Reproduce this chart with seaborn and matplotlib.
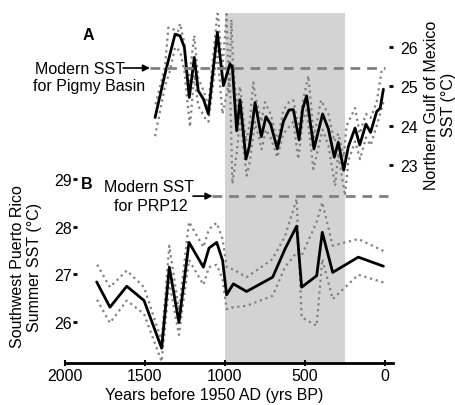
import matplotlib
matplotlib.use('Agg')
import matplotlib.pyplot as plt
import seaborn as sns

# ------------------------------------------------------------
# DATA
# ------------------------------------------------------------

# A: Northern Gulf of Mexico (Pigmy Basin) SST
pb_years = [1437, 1375, 1344, 1312, 1281, 1254, 1223, 1192, 1167, 1135,
            1104, 1048, 1010, 969, 954, 927, 906, 869, 848, 812,
            773, 744, 715, 673, 635, 600, 573, 537, 515, 490,
            444, 390, 354, 317, 292, 258, 229, 187, 158, 119,
            90, 52, 30, 10]
pb_sst = [24.21, 25.32, 25.82, 26.33, 26.29, 26.00, 24.72, 25.74, 24.89, 24.68,
          24.30, 26.38, 25.02, 25.57, 25.50, 23.87, 24.66, 23.15, 23.47, 24.59,
          23.72, 24.23, 24.04, 23.41, 24.11, 24.40, 24.41, 23.64, 24.42, 24.76,
          23.41, 24.30, 23.92, 23.20, 23.58, 22.87, 23.47, 23.94, 23.51, 24.04,
          23.83, 24.36, 24.45, 24.93]

pb_hi_years = [1437, 1375, 1354, 1320, 1300, 1281, 1254, 1230, 1192, 1167,
               1135, 1104, 1046, 1015, 990, 975, 960, 950, 927, 906,
               869, 848, 823, 812, 773, 750, 715, 673, 635, 600,
               573, 537, 515, 479, 444, 400, 354, 317, 292, 258,
               240, 187, 158, 119, 90, 52, 21]
pb_hi = [24.50, 25.50, 26.50, 26.45, 26.30, 26.60, 26.10, 25.00, 26.30, 25.20,
         24.90, 24.50, 26.93, 25.50, 26.84, 24.80, 26.70, 25.60, 24.50, 25.00,
         23.60, 24.00, 25.10, 24.80, 24.10, 24.60, 24.30, 23.60, 24.40, 24.60,
         24.65, 23.90, 24.60, 25.27, 23.70, 24.65, 24.30, 23.60, 23.80, 23.20,
         24.00, 24.45, 23.80, 24.30, 24.20, 24.60, 25.40]

pb_lo_years = [1441, 1375, 1344, 1312, 1281, 1254, 1219, 1192, 1167, 1115,
               1104, 1048, 1016, 969, 954, 927, 906, 865, 848, 812,
               771, 744, 715, 673, 635, 573, 542, 515, 490, 448,
               390, 354, 312, 292, 250, 229, 187, 156, 119, 90,
               52, 10]
pb_lo = [23.66, 25.00, 25.40, 26.00, 25.90, 25.40, 23.97, 25.30, 24.50, 24.13,
         24.10, 25.90, 24.30, 25.20, 22.52, 23.30, 24.20, 22.73, 23.00, 24.10,
         23.40, 23.90, 23.70, 23.20, 23.80, 24.10, 23.15, 24.10, 24.40, 22.90,
         23.90, 23.50, 22.47, 23.30, 22.22, 23.10, 23.60, 23.15, 23.70, 23.50,
         24.00, 24.60]

# B: Southwest Puerto Rico (PRP12) summer SST
pr_years = [1802, 1719, 1614, 1506, 1396, 1348, 1288, 1225, 1135, 1100,
            1052, 1015, 990, 948, 865, 702, 625, 552, 521, 427,
            392, 327, 167, 10]
pr_sst = [26.84, 26.31, 26.75, 26.45, 25.45, 27.15, 25.99, 27.67, 27.15, 27.55,
          27.67, 27.29, 26.57, 26.80, 26.64, 26.94, 27.53, 28.01, 26.73, 26.97,
          27.88, 27.04, 27.36, 27.17]
pr_hi = [27.22, 26.73, 27.08, 26.73, 25.60, 27.60, 26.24, 28.10, 27.57, 27.95,
         28.08, 27.74, 27.15, 27.10, 26.94, 27.32, 27.80, 28.58, 26.10, 25.92,
         27.32, 26.48, 26.99, 26.83]
pr_lo = [26.48, 25.98, 26.45, 26.17, 25.17, 26.83, 25.73, 27.30, 26.78, 27.15,
         27.20, 26.90, 26.27, 26.31, 26.34, 26.55, 27.15, 27.46, 27.39, 28.10,
         28.51, 27.60, 27.74, 27.49]

modern_pb = 25.47
modern_pr = 28.64
shade_years = [1000, 250]

left_ticks = [26, 27, 28, 29]
right_ticks = [23, 24, 25, 26]
x_ticks = [2000, 1500, 1000, 500, 0]

# ------------------------------------------------------------
# STYLE
# ------------------------------------------------------------
sns.set_theme(style='white')
plt.rcParams['font.family'] = ['Liberation Sans', 'DejaVu Sans']
plt.rcParams['font.size'] = 11.5
plt.rcParams['text.color'] = 'black'
plt.rcParams['axes.labelcolor'] = 'black'
plt.rcParams['xtick.color'] = 'black'
plt.rcParams['ytick.color'] = 'black'

W, H = 456, 406
fig = plt.figure(figsize=(W / 100, H / 100), dpi=100)
ax = fig.add_axes([65 / W, 1 - 364 / H, (393 - 65) / W, (364 - 14) / H])
ax2 = ax.twinx()

GRAY = '#808080'
SHADE = '#d3d3d3'

ax.set_xlim(2000, -50)
ax.set_ylim(25.14, 32.48)
ax2.set_ylim(17.96, 26.87)

# shaded interval
ax.axvspan(shade_years[0], shade_years[1], color=SHADE, lw=0, zorder=0)

# panel B
sns.lineplot(x=pr_years, y=pr_hi, ax=ax, color=GRAY, lw=1.6, ls=':', errorbar=None)
sns.lineplot(x=pr_years, y=pr_lo, ax=ax, color=GRAY, lw=1.6, ls=':', errorbar=None)
sns.lineplot(x=pr_years, y=pr_sst, ax=ax, color='black', lw=2.0, errorbar=None)
ax.plot([1081, -19], [modern_pr, modern_pr], color=GRAY, lw=2, ls=(0, (3.5, 2.5)))
ax.annotate('', xy=(1078, modern_pr), xytext=(1200, modern_pr),
            arrowprops=dict(arrowstyle='-|>', color='black', lw=1.2,
                            mutation_scale=10, shrinkA=0, shrinkB=0))

# panel A
sns.lineplot(x=pb_hi_years, y=pb_hi, ax=ax2, color=GRAY, lw=1.6, ls=':', errorbar=None)
sns.lineplot(x=pb_lo_years, y=pb_lo, ax=ax2, color=GRAY, lw=1.6, ls=':', errorbar=None)
sns.lineplot(x=pb_years, y=pb_sst, ax=ax2, color='black', lw=2.0, errorbar=None)
ax2.plot([1469, 0], [modern_pb, modern_pb], color=GRAY, lw=2, ls=(0, (3.5, 2.5)))
ax2.annotate('', xy=(1469, modern_pb), xytext=(1637, modern_pb),
             arrowprops=dict(arrowstyle='-|>', color='black', lw=1.2,
                             mutation_scale=10, shrinkA=0, shrinkB=0))

# axes cosmetics
for s in ['top', 'right', 'left']:
    ax.spines[s].set_visible(False)
for s in ax2.spines.values():
    s.set_visible(False)
ax.spines['bottom'].set_color('black')
ax.spines['bottom'].set_linewidth(2)

ax.set_xticks(x_ticks)
ax.set_xticklabels([str(v) for v in x_ticks])
ax.tick_params(axis='x', direction='inout', length=5, width=1.5,
               colors='black', pad=1, labelsize=11.5, bottom=True)

ax.spines['left'].set_position(('outward', -9))
ax.set_yticks(left_ticks)
ax.set_yticklabels([str(v) for v in left_ticks])
ax.tick_params(axis='y', direction='out', length=3, width=2,
               colors='black', pad=1, labelsize=11.5, left=True)

ax2.set_yticks(right_ticks)
ax2.set_yticklabels([str(v) for v in right_ticks])
ax2.tick_params(axis='y', direction='in', length=3, width=2,
                colors='black', pad=5, labelsize=11.5, right=True)

ax.set_xlabel('')
ax.set_ylabel('')
ax2.set_ylabel('')

# texts
def ft(x, y, s, **kw):
    fig.text(x / W, 1 - y / H, s, color='black', **kw)

ft(88, 35, 'A', fontweight='bold', ha='center', va='center', fontsize=11.5)
ft(87, 185, 'B', fontweight='bold', ha='center', va='center', fontsize=11.5)
ft(35, 69, 'Modern SST', ha='left', va='center')
ft(33, 87, 'for Pigmy Basin', ha='left', va='center')
ft(149, 188, 'Modern SST', ha='center', va='center')
ft(151, 207, 'for PRP12', ha='center', va='center')
ft(214, 396, 'Years before 1950 AD (yrs BP)', ha='center', va='center')
ft(26, 267, 'Southwest Puerto Rico\nSummer SST (°C)', ha='center', va='center',
   rotation=90, multialignment='center', linespacing=1.1)
ft(440, 105, 'Northern Gulf of Mexico\nSST (°C)', ha='center', va='center',
   rotation=90, multialignment='center', linespacing=1.1)

fig.savefig('out.png', dpi=100)
